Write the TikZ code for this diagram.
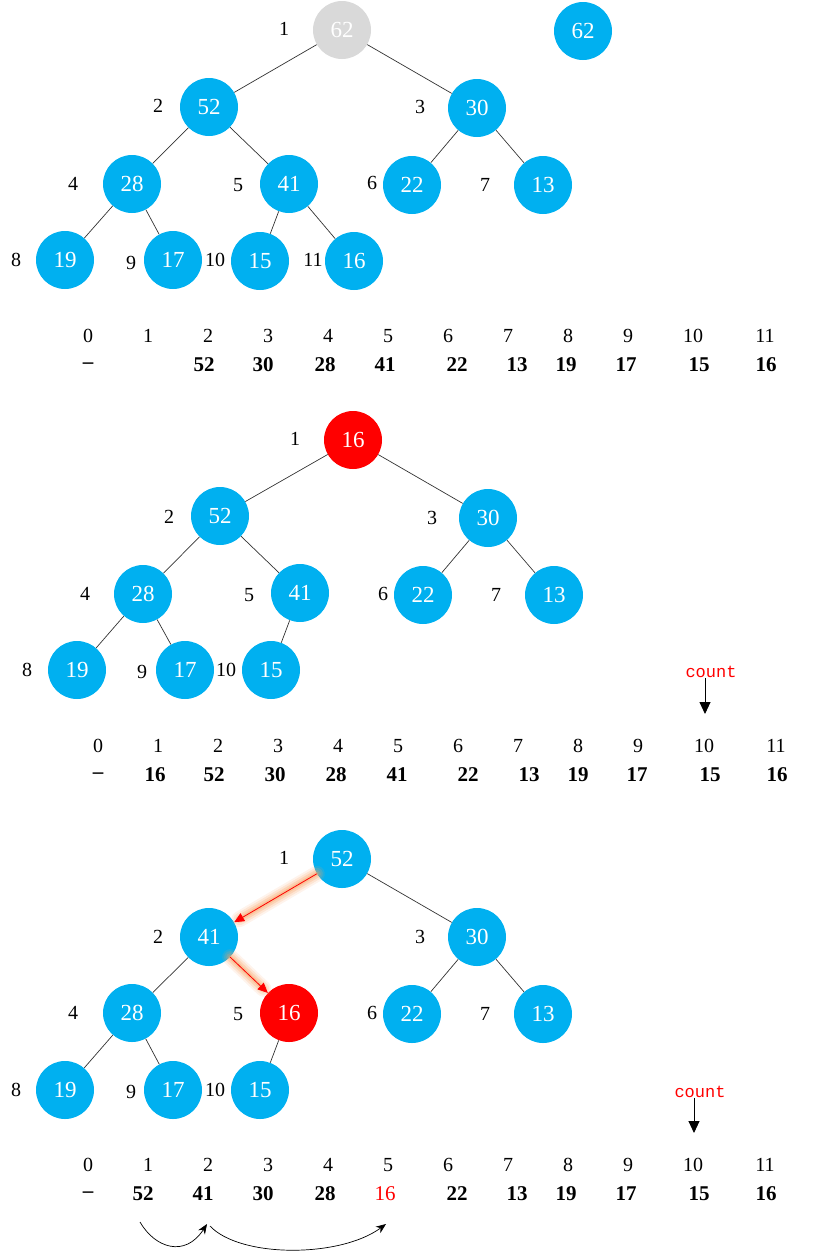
\documentclass[tikz,border=0pt]{standalone}
\usepackage{fontspec}
\setmainfont{Liberation Serif}
\newfontfamily\cntfont{Liberation Mono}
\usetikzlibrary{arrows.meta}
\definecolor{heapblue}{HTML}{00B0F0}
\definecolor{heapgrey}{HTML}{D9D9D9}
\definecolor{heapred}{HTML}{FF0000}
\definecolor{glowcol}{HTML}{F7A060}
\begin{document}
\begin{tikzpicture}[x=1pt,y=-1pt,
  hnode/.style={circle, fill=heapblue, minimum size=58pt, inner sep=0pt, text=white, font=\fontsize{23}{23}\selectfont},
  greynode/.style={hnode, fill=heapgrey},
  rednode/.style={hnode, fill=heapred},
  lbl/.style={inner sep=0pt, font=\fontsize{20}{20}\selectfont},
  idx/.style={inner sep=0pt, font=\fontsize{20}{20}\selectfont},
  val/.style={inner sep=0pt, font=\fontsize{21}{21}\selectfont\bfseries},
  tedge/.style={draw=black!80, line width=0.7pt},
  cnt/.style={inner sep=0pt, text=heapred, font=\cntfont\fontsize{17}{17}\selectfont},
  cntarrow/.style={line width=0.9pt, -{Triangle[length=12pt,width=11pt]}},
  swaparrow/.style={draw=heapred, line width=0.8pt, -{Triangle[length=10pt,width=9pt]}},
  glowline/.style={draw=glowcol, line cap=round, opacity=#1},
  curvearrow/.style={line width=0.7pt, -{Stealth[length=10pt,width=8pt]}}
]
\useasboundingbox (0,0) rectangle (814,1251);

% ================= Section 1 =================
\node[greynode] (a1) at (342,30) {62};
\node[hnode] (a62) at (583,31) {62};
\node[hnode] (a2) at (209,107) {52};
\node[hnode] (a3) at (477,108) {30};
\node[hnode] (a4) at (132,184) {28};
\node[hnode] (a5) at (289,184) {41};
\node[hnode] (a6) at (412,185) {22};
\node[hnode] (a7) at (543,185) {13};
\node[hnode] (a8) at (65,260) {19};
\node[hnode] (a9) at (173,260) {17};
\node[hnode] (a10) at (260,261) {15};
\node[hnode] (a11) at (354,261) {16};
\draw[tedge] (a1) -- (a2);
\draw[tedge] (a1) -- (a3);
\draw[tedge] (a2) -- (a4);
\draw[tedge] (a2) -- (a5);
\draw[tedge] (a3) -- (a6);
\draw[tedge] (a3) -- (a7);
\draw[tedge] (a4) -- (a8);
\draw[tedge] (a4) -- (a9);
\draw[tedge] (a5) -- (a10);
\draw[tedge] (a5) -- (a11);
\node[lbl] (al1) at (284,29) {1};
\node[lbl] (al2) at (158,106) {2};
\node[lbl] (al3) at (420,107) {3};
\node[lbl] (al4) at (73,184) {4};
\node[lbl] (al5) at (238,185) {5};
\node[lbl] (al6) at (372,183) {6};
\node[lbl] (al7) at (485,185) {7};
\node[lbl] (al8) at (16,260) {8};
\node[lbl] (al9) at (131,263) {9};
\node[lbl] (al10) at (215,260) {10};
\node[lbl] (al11) at (313,260) {11};
\node[idx] (ai0) at (88,336) {0};
\node[idx] (ai1) at (148,336) {1};
\node[idx] (ai2) at (208,336) {2};
\node[idx] (ai3) at (268,336) {3};
\node[idx] (ai4) at (328,336) {4};
\node[idx] (ai5) at (388,336) {5};
\node[idx] (ai6) at (448,336) {6};
\node[idx] (ai7) at (508,336) {7};
\node[idx] (ai8) at (568,336) {8};
\node[idx] (ai9) at (628,336) {9};
\node[idx] (ai10) at (693,336) {10};
\node[idx] (ai11) at (765,336) {11};
\node[val] (av0) at (88,366) {–};
\node[val] (av2) at (204,365) {52};
\node[val] (av3) at (263,365) {30};
\node[val] (av4) at (325,365) {28};
\node[val] (av5) at (385,365) {41};
\node[val] (av6) at (457,365) {22};
\node[val] (av7) at (517,365) {13};
\node[val] (av8) at (566,365) {19};
\node[val] (av9) at (626,365) {17};
\node[val] (av10) at (699,365) {15};
\node[val] (av11) at (766,365) {16};

% ================= Section 2 =================
\begin{scope}[shift={(11,410)}]
\node[rednode] (b1) at (342,30) {16};
\node[hnode] (b2) at (209,106) {52};
\node[hnode] (b3) at (477,108) {30};
\node[hnode] (b4) at (132,184) {28};
\node[hnode] (b5) at (289,183) {41};
\node[hnode] (b6) at (412,185) {22};
\node[hnode] (b7) at (543,185) {13};
\node[hnode] (b8) at (66,260) {19};
\node[hnode] (b9) at (174,260) {17};
\node[hnode] (b10) at (260,260) {15};
\draw[tedge] (b1) -- (b2);
\draw[tedge] (b1) -- (b3);
\draw[tedge] (b2) -- (b4);
\draw[tedge] (b2) -- (b5);
\draw[tedge] (b3) -- (b6);
\draw[tedge] (b3) -- (b7);
\draw[tedge] (b4) -- (b8);
\draw[tedge] (b4) -- (b9);
\draw[tedge] (b5) -- (b10);
\node[lbl] (bl1) at (284,29) {1};
\node[lbl] (bl2) at (158,107) {2};
\node[lbl] (bl3) at (421,108) {3};
\node[lbl] (bl4) at (74,184) {4};
\node[lbl] (bl5) at (238,185) {5};
\node[lbl] (bl6) at (372,184) {6};
\node[lbl] (bl7) at (485,185) {7};
\node[lbl] (bl8) at (16,260) {8};
\node[lbl] (bl9) at (131,262) {9};
\node[lbl] (bl10) at (215,260) {10};
\node[idx] (bi0) at (87,336) {0};
\node[idx] (bi1) at (147,336) {1};
\node[idx] (bi2) at (207,336) {2};
\node[idx] (bi3) at (267,336) {3};
\node[idx] (bi4) at (327,336) {4};
\node[idx] (bi5) at (387,336) {5};
\node[idx] (bi6) at (447,336) {6};
\node[idx] (bi7) at (507,336) {7};
\node[idx] (bi8) at (567,336) {8};
\node[idx] (bi9) at (627,336) {9};
\node[idx] (bi10) at (693,336) {10};
\node[idx] (bi11) at (765,336) {11};
\node[val] (bv0) at (87,366) {–};
\node[val] (bv1) at (144,365) {16};
\node[val] (bv2) at (203,365) {52};
\node[val] (bv3) at (264,365) {30};
\node[val] (bv4) at (325,365) {28};
\node[val] (bv5) at (386,365) {41};
\node[val] (bv6) at (457,365) {22};
\node[val] (bv7) at (518,365) {13};
\node[val] (bv8) at (567,365) {19};
\node[val] (bv9) at (626,365) {17};
\node[val] (bv10) at (699,365) {15};
\node[val] (bv11) at (766,365) {16};
\node[cnt] (bcnt) at (700,262) {count};
\coordinate (bcntend) at (694,304);
\draw[cntarrow] ([xshift=-6pt]bcnt.south) -- (bcntend);
\end{scope}

% ================= Section 3 =================
\begin{scope}[shift={(0,829)}]
\node[hnode] (c1) at (342,30) {52};
\node[hnode] (c2) at (209,108) {41};
\node[hnode] (c3) at (477,108) {30};
\node[hnode] (c4) at (132,184) {28};
\node[rednode] (c5) at (289,184) {16};
\node[hnode] (c6) at (412,185) {22};
\node[hnode] (c7) at (543,185) {13};
\node[hnode] (c8) at (65,261) {19};
\node[hnode] (c9) at (173,261) {17};
\node[hnode] (c10) at (260,261) {15};
\draw[tedge] (c1) -- (c3);
\draw[tedge] (c2) -- (c4);
\draw[tedge] (c3) -- (c6);
\draw[tedge] (c3) -- (c7);
\draw[tedge] (c4) -- (c8);
\draw[tedge] (c4) -- (c9);
\draw[tedge] (c5) -- (c10);
% glowing swap arrows
\foreach \w/\o in {16/0.12, 12/0.18, 8/0.25, 4/0.35} {
  \draw[glowline=\o, line width=\w pt, shorten >=6pt] (c1) -- (c2);
  \draw[glowline=\o, line width=\w pt, shorten >=6pt] (c2) -- (c5);
}
\draw[swaparrow] (c1) -- (c2);
\draw[swaparrow] (c2) -- (c5);
\node[lbl] (cl1) at (284,29) {1};
\node[lbl] (cl2) at (158,108) {2};
\node[lbl] (cl3) at (420,108) {3};
\node[lbl] (cl4) at (73,184) {4};
\node[lbl] (cl5) at (238,185) {5};
\node[lbl] (cl6) at (372,184) {6};
\node[lbl] (cl7) at (485,185) {7};
\node[lbl] (cl8) at (16,261) {8};
\node[lbl] (cl9) at (131,263) {9};
\node[lbl] (cl10) at (215,261) {10};
\node[idx] (ci0) at (88,336) {0};
\node[idx] (ci1) at (148,336) {1};
\node[idx] (ci2) at (208,336) {2};
\node[idx] (ci3) at (268,336) {3};
\node[idx] (ci4) at (328,336) {4};
\node[idx] (ci5) at (388,336) {5};
\node[idx] (ci6) at (448,336) {6};
\node[idx] (ci7) at (508,336) {7};
\node[idx] (ci8) at (568,336) {8};
\node[idx] (ci9) at (628,336) {9};
\node[idx] (ci10) at (693,336) {10};
\node[idx] (ci11) at (765,336) {11};
\node[val] (cv0) at (88,366) {–};
\node[val] (cv1) at (143,365) {52};
\node[val] (cv2) at (203,365) {41};
\node[val] (cv3) at (263,365) {30};
\node[val] (cv4) at (325,365) {28};
\node[val, text=heapred, font=\fontsize{21}{21}\selectfont] (cv5) at (385,365) {16};
\node[val] (cv6) at (457,365) {22};
\node[val] (cv7) at (517,365) {13};
\node[val] (cv8) at (566,365) {19};
\node[val] (cv9) at (626,365) {17};
\node[val] (cv10) at (699,365) {15};
\node[val] (cv11) at (766,365) {16};
\node[cnt] (ccnt) at (700,263) {count};
\coordinate (ccntend) at (694,304);
\draw[cntarrow] ([xshift=-6pt]ccnt.south) -- (ccntend);
% swap path arrows below the array
\coordinate (s1) at (140,393);
\coordinate (s2) at (207,395);
\coordinate (s3) at (210,397);
\coordinate (s4) at (386,395);
\draw[curvearrow] (s1) .. controls (155,419) and (185,429) .. (s2);
\draw[curvearrow] (s3) .. controls (240,429) and (340,429) .. (s4);
\end{scope}
\end{tikzpicture}
\end{document}
